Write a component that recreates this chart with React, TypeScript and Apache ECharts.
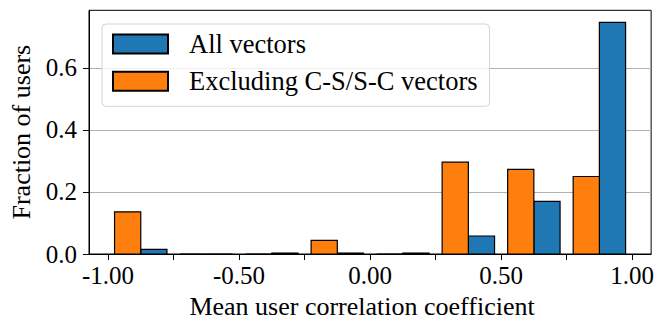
import React, { useEffect, useRef } from "react";
import * as echarts from "echarts";

// Histogram of mean user correlation coefficients, 8 bins of width 0.25 on [-1, 1]
const binStarts = [-1.0, -0.75, -0.5, -0.25, 0.0, 0.25, 0.5, 0.75];
const binWidth = 0.25;
const allVectors = [0.015, 0.0, 0.003, 0.003, 0.003, 0.058, 0.17, 0.747];
const excludingCS = [0.136, 0.0, 0.0, 0.044, 0.0, 0.296, 0.273, 0.25];
const seriesNames = ["All vectors", "Excluding C-S/S-C vectors"];
const xTickValues = [-1.0, -0.75, -0.5, -0.25, 0.0, 0.25, 0.5, 0.75, 1.0];
const xLabelValues = [-1.0, -0.5, 0.0, 0.5, 1.0];
const yTickValues = [0.0, 0.2, 0.4, 0.6];

const BLUE = "#1f77b4";
const ORANGE = "#ff7f0e";
const FONT = "'Liberation Serif', 'Times New Roman', serif";

// matplotlib-style grouped histogram: bars share 80% of each bin,
// the second dataset sits in the left half, the first in the right half
const REL_WIDTH = 0.8;
const barSpan = (binWidth * REL_WIDTH) / 2;

function buildData(values: number[], slot: number) {
  return values.map((v, i) => {
    const left = binStarts[i] + (binWidth * (1 - REL_WIDTH)) / 2 + slot * barSpan;
    return [left, left + barSpan, v];
  });
}

function renderBar(color: string) {
  return (params: any, api: any) => {
    const x0 = api.value(0);
    const x1 = api.value(1);
    const y = api.value(2);
    const topLeft = api.coord([x0, y]);
    const bottomRight = api.coord([x1, 0]);
    return {
      type: "rect",
      shape: {
        x: topLeft[0],
        y: topLeft[1],
        width: bottomRight[0] - topLeft[0],
        height: bottomRight[1] - topLeft[1],
      },
      style: { fill: color, stroke: "#000", lineWidth: 1.2 },
    };
  };
}

export default function App() {
  const ref = useRef<HTMLDivElement>(null);

  useEffect(() => {
    if (!ref.current) return;
    const chart = echarts.init(ref.current, undefined, { renderer: "svg" });
    chart.setOption({
      animation: false,
      textStyle: { fontFamily: FONT, color: "#000" },
      grid: {
        left: 88.7,
        right: 4.7,
        top: 10.3,
        bottom: 64,
        show: true,
        borderColor: "#000",
        borderWidth: 1,
      },
      legend: {
        orient: "vertical",
        left: 102,
        top: 24,
        data: seriesNames.map((name) => ({ name, icon: "rect" })),
        itemWidth: 55,
        itemHeight: 19,
        itemGap: 9.3,
        padding: [6, 12, 11, 10],
        backgroundColor: "rgba(255,255,255,0.8)",
        borderColor: "#d4d4d4",
        borderWidth: 1,
        borderRadius: 4,
        selectedMode: false,
        textStyle: {
          fontFamily: FONT,
          fontSize: 26.5,
          color: "#000",
          lineHeight: 28,
          padding: [0, 0, 0, 16],
        },
      },
      xAxis: {
        type: "value",
        min: -1.0725,
        max: 1.0725,
        name: "Mean user correlation coefficient",
        nameLocation: "middle",
        nameGap: 39,
        nameTextStyle: { fontFamily: FONT, fontSize: 26, color: "#000", padding: [0, 16, 0, 0] },
        axisLine: { show: true, onZero: false, lineStyle: { color: "#000", width: 1 } },
        axisTick: {
          show: true,
          length: 6,
          customValues: xTickValues,
          lineStyle: { color: "#000", width: 1 },
        },
        axisLabel: {
          customValues: xLabelValues,
          fontFamily: FONT,
          fontSize: 25,
          color: "#000",
          margin: 9,
          formatter: (v: number) => v.toFixed(2),
        },
        splitLine: { show: false },
      },
      yAxis: {
        type: "value",
        min: 0,
        max: 0.786,
        interval: 0.2,
        name: "Fraction of users",
        nameLocation: "middle",
        nameGap: 55,
        nameTextStyle: { fontFamily: FONT, fontSize: 26, color: "#000" },
        axisLine: { show: true, onZero: false, lineStyle: { color: "#000", width: 1 } },
        axisTick: {
          show: true,
          length: 6,
          customValues: yTickValues,
          lineStyle: { color: "#000", width: 1 },
        },
        axisLabel: {
          customValues: yTickValues,
          fontFamily: FONT,
          fontSize: 25,
          color: "#000",
          margin: 12,
          formatter: (v: number) => v.toFixed(1),
        },
        splitLine: { show: true, lineStyle: { color: "#b0b0b0", width: 1 } },
      },
      series: [
        {
          name: seriesNames[0],
          type: "custom",
          renderItem: renderBar(BLUE),
          itemStyle: { color: BLUE, borderColor: "#000", borderWidth: 1 },
          encode: { x: [0, 1], y: 2 },
          data: buildData(allVectors, 1),
          z: 2,
        },
        {
          name: seriesNames[1],
          type: "custom",
          renderItem: renderBar(ORANGE),
          itemStyle: { color: ORANGE, borderColor: "#000", borderWidth: 1 },
          encode: { x: [0, 1], y: 2 },
          data: buildData(excludingCS, 0),
          z: 2,
        },
      ],
    });
    return () => chart.dispose();
  }, []);

  return (
    <div
      ref={ref}
      style={{ position: "fixed", left: 0, top: 0, width: 657, height: 324, background: "#fff" }}
    />
  );
}
